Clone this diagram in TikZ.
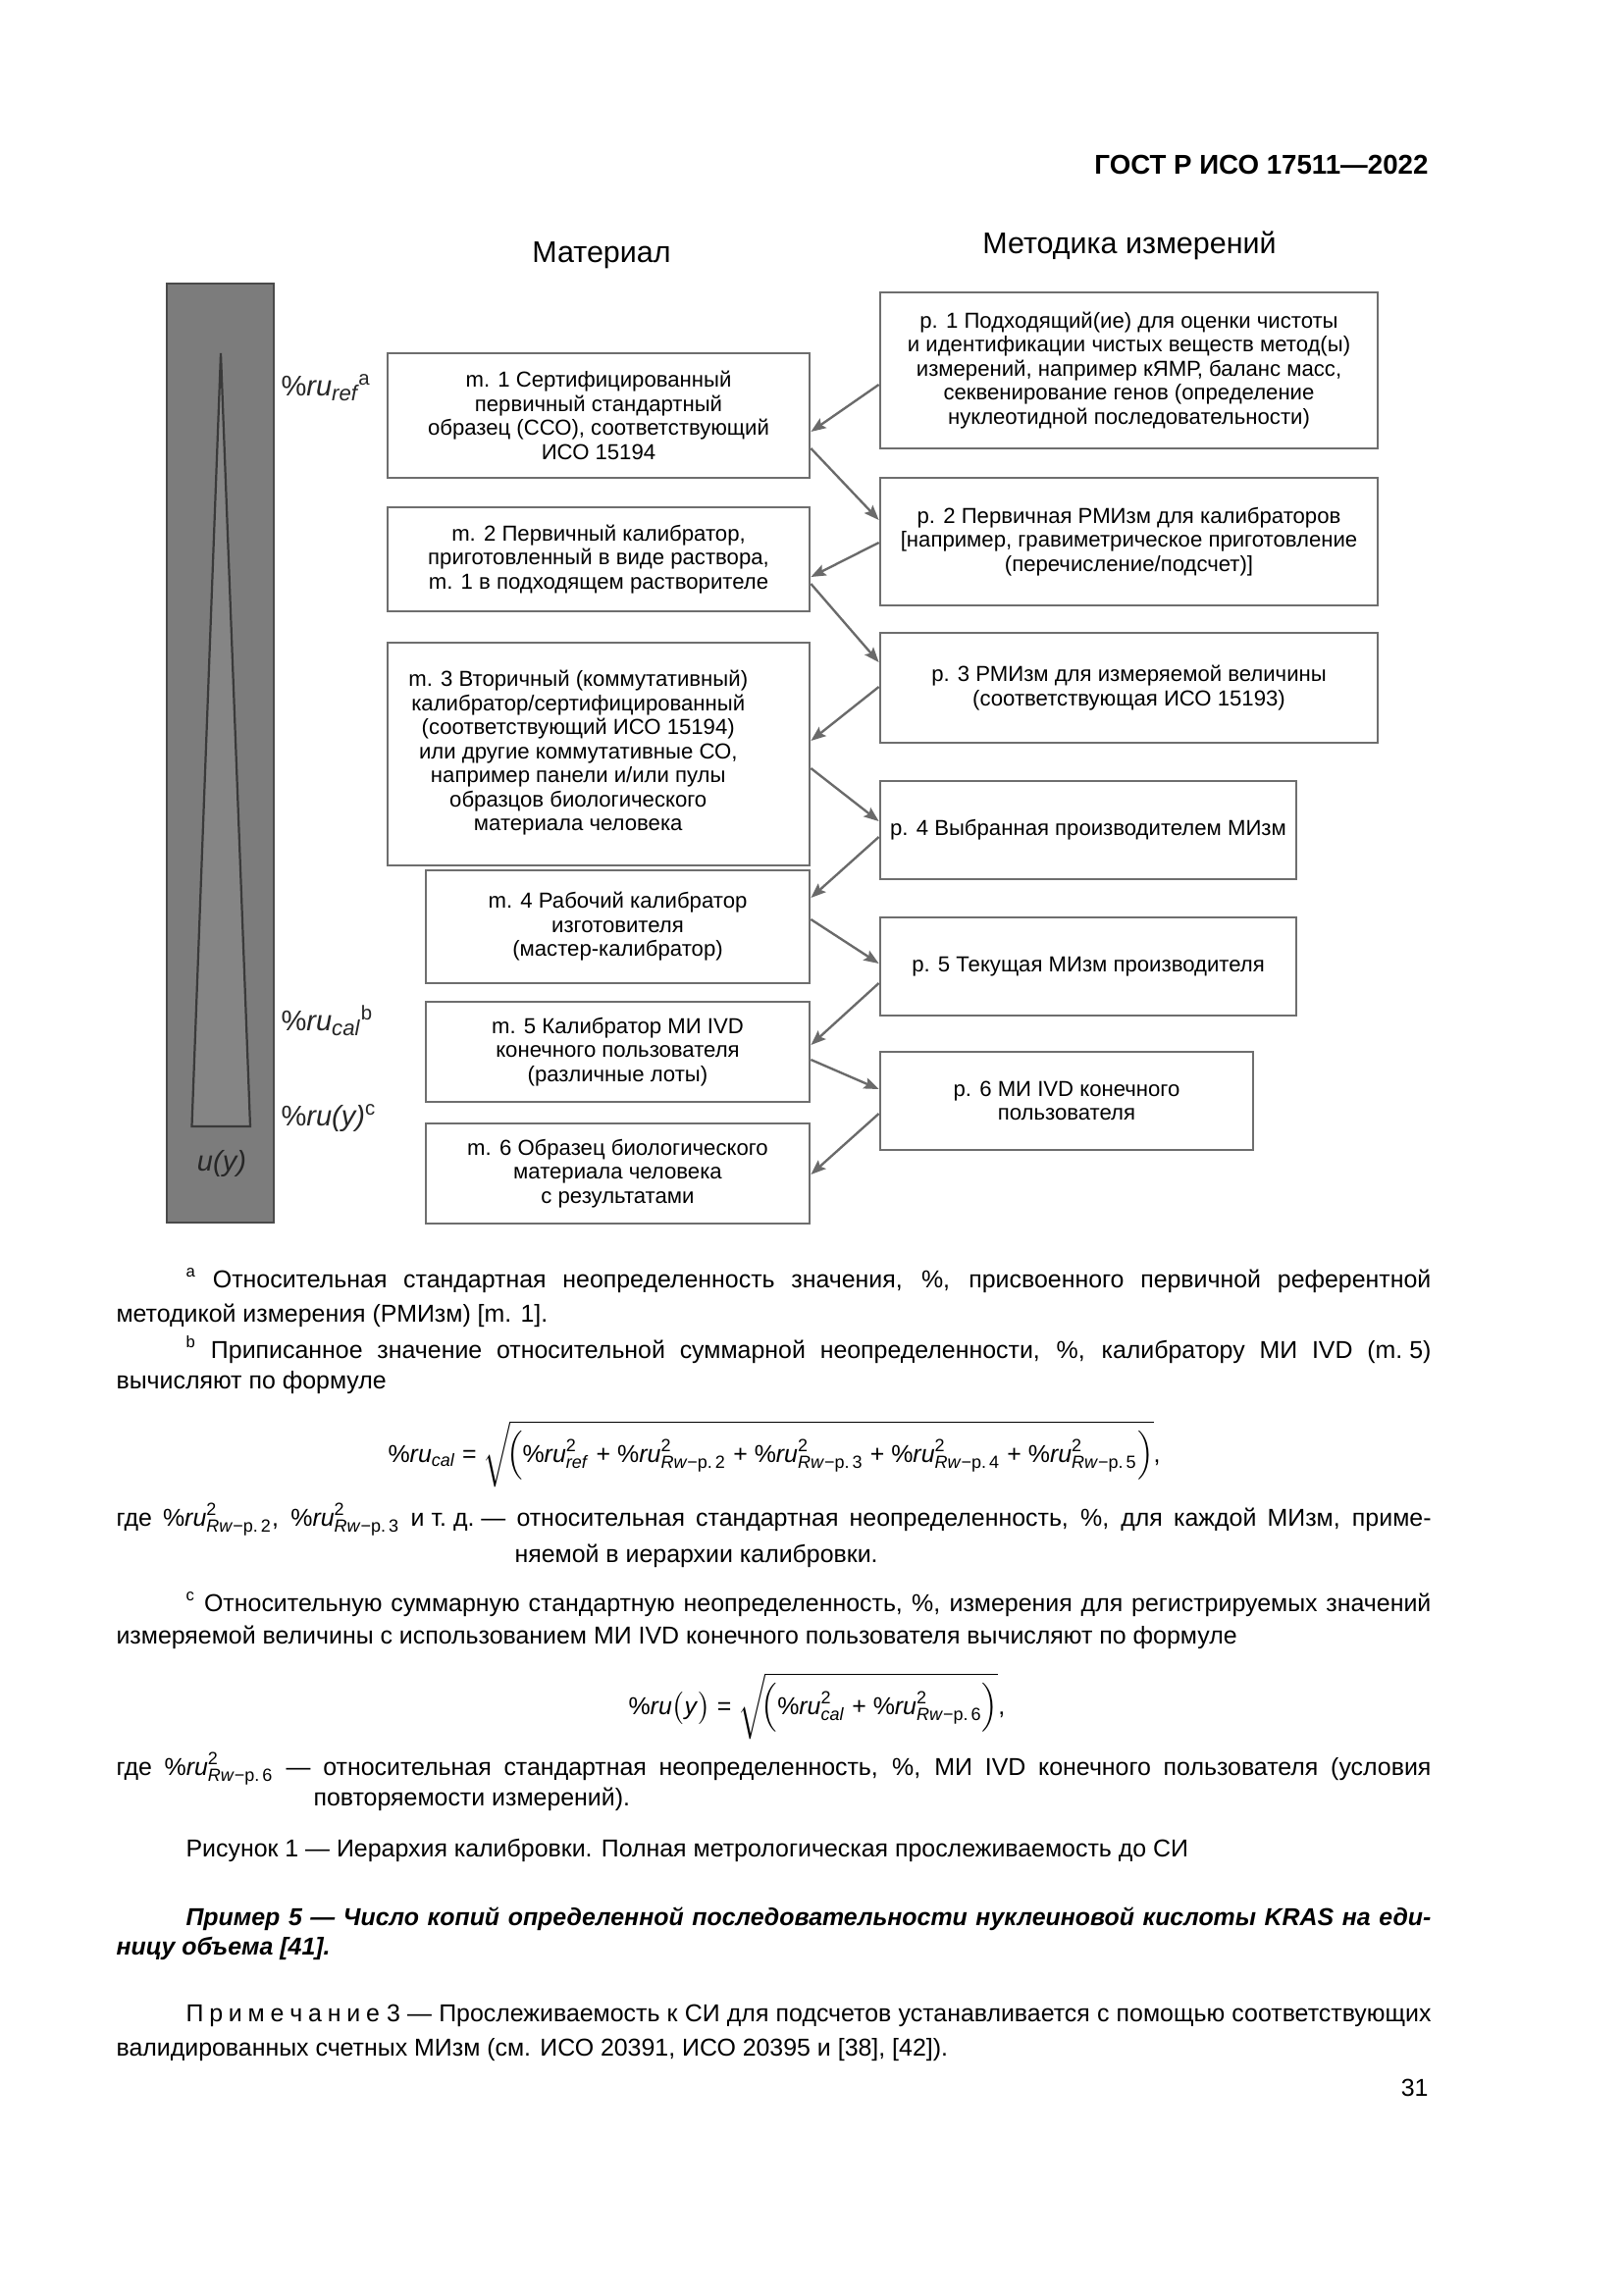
\documentclass[tikz,border=0pt]{standalone}
\usepackage{fontspec}
\setmainfont{Liberation Sans}
\usetikzlibrary{arrows.meta,calc}
\definecolor{boxgray}{HTML}{6E6E6E}
\definecolor{arrgray}{HTML}{6A6A6A}
\definecolor{bargray}{HTML}{7C7C7C}
\definecolor{bardark}{HTML}{4A4A4A}
\definecolor{trigray}{HTML}{858585}
\definecolor{tridark}{HTML}{3A3A3A}
\newcommand{\tsz}{\fontsize{8}{8.85}\selectfont}
\newcommand{\bsz}{\fontsize{9}{11}\selectfont}
\newcommand{\ssz}{\fontsize{6.5}{7}\selectfont}
\newcommand{\lsz}{\fontsize{10.5}{12}\selectfont}
\newcommand{\hsz}{\fontsize{11}{13}\selectfont}
\newcommand{\pru}[1]{\%\textit{ru}$^{\mbox{\ssz 2}}_{\mbox{\ssz #1}}$}
\newcommand{\rwp}[1]{\textit{Rw}−p.\,#1}
\begin{document}
\begin{tikzpicture}[x=0.36125pt,y=-0.36125pt,
  box/.style={draw=boxgray, line width=1pt, fill=white, inner sep=0pt, align=center, font=\tsz},
  arr/.style={draw=arrgray, line width=0.85pt, -{Stealth[length=5.5pt,width=4.2pt,inset=1pt]}},
  txt/.style={anchor=base west, inner sep=0pt, font=\bsz},
  lab/.style={anchor=base west, inner sep=0pt, font=\lsz, text=black!85}]
\useasboundingbox[fill=white] (0,0) rectangle (1654,2339);

% header
\node[anchor=base east, inner sep=0pt, font=\fontsize{10}{12}\selectfont\bfseries] (hdr) at (1456,178) {ГОСТ Р ИСО 17511—2022};
\node[anchor=base, inner sep=0pt, font=\hsz] (tmat) at (613,267) {Материал};
\node[anchor=base, inner sep=0pt, font=\hsz] (tmet) at (1151,258) {Методика измерений};

% uncertainty bar
\draw[draw=bardark, fill=bargray, line width=0.8pt] (170,289) rectangle (279,1246);
\draw[draw=tridark, fill=trigray, line width=0.8pt] (225,360) -- (255,1148) -- (195.5,1148) -- cycle;
\node[anchor=base, inner sep=0pt, font=\lsz, text=black!85] (uy) at (226,1193) {\textit{u(y)}};

\node[lab] (lref) at (286,403) {\%\textit{ru}$_{\mbox{\fontsize{8}{9}\selectfont\itshape ref}}$\textsuperscript{a}};
\node[lab] (lcal) at (286,1050) {\%\textit{ru}$_{\mbox{\fontsize{8}{9}\selectfont\itshape cal}}$\textsuperscript{b}};
\node[lab] (lry) at (286,1147) {\%\textit{ru(y)}\textsuperscript{c}};

% material boxes
\node[box, minimum width=155.34pt, minimum height=45.88pt] (m1) at (610,423.5)
  {m. 1 Сертифицированный\\первичный стандартный\\образец (ССО), соответствующий\\ИСО 15194};
\node[box, minimum width=155.34pt, minimum height=38.29pt] (m2) at (610,570)
  {m. 2 Первичный калибратор,\\приготовленный в виде раствора,\\m. 1 в подходящем растворителе};
\node[draw=boxgray, line width=1pt, fill=white, inner sep=0pt, font=\tsz, minimum width=155.34pt, minimum height=82pt] (m3) at (610,768.5)
  {\begin{tabular}{@{}c@{}}m. 3 Вторичный (коммутативный)\\калибратор/сертифицированный\\(соответствующий ИСО 15194)\\или другие коммутативные СО,\\например панели и/или пулы\\образцов биологического\\материала человека\end{tabular}\hspace*{15pt}};
\node[box, minimum width=141.25pt, minimum height=41.54pt] (m4) at (629.5,944.5)
  {m. 4 Рабочий калибратор\\изготовителя\\(мастер-калибратор)};
\node[box, minimum width=141.25pt, minimum height=36.85pt] (m5) at (629.5,1072)
  {m. 5 Калибратор МИ IVD\\конечного пользователя\\(различные лоты)};
\node[box, minimum width=141.25pt, minimum height=36.85pt] (m6) at (629.5,1196)
  {m. 6 Образец биологического\\материала человека\\с результатами};

% procedure boxes
\node[box, minimum width=183.15pt, minimum height=57.44pt] (p1) at (1150.5,377.5)
  {p. 1 Подходящий(ие) для оценки чистоты\\и идентификации чистых веществ метод(ы)\\измерений, например кЯМР, баланс масс,\\секвенирование генов (определение\\нуклеотидной последовательности)};
\node[box, minimum width=183.15pt, minimum height=46.96pt] (p2) at (1150.5,552)
  {p. 2 Первичная РМИзм для калибраторов\\{[}например, гравиметрическое приготовление\\(перечисление/подсчет)]};
\node[box, minimum width=183.15pt, minimum height=40.46pt] (p3) at (1150.5,701)
  {p. 3 РМИзм для измеряемой величины\\(соответствующая ИСО 15193)};
\node[box, minimum width=153.17pt, minimum height=36.13pt] (p4) at (1109,846)
  {p. 4 Выбранная производителем МИзм};
\node[box, minimum width=153.17pt, minimum height=36.13pt] (p5) at (1109,985)
  {p. 5 Текущая МИзм производителя};
\node[box, minimum width=137.28pt, minimum height=36.13pt] (p6) at (1087,1122)
  {p. 6 МИ IVD конечного\\пользователя};

% connectors
\draw[arr] (p1.west |- 0,392) -- (m1.east |- 0,440);
\draw[arr] (m1.east |- 0,457) -- (p2.west |- 0,530);
\draw[arr] (p2.west |- 0,553) -- (m2.east |- 0,588);
\draw[arr] (m2.east |- 0,595) -- (p3.west |- 0,675);
\draw[arr] (p3.west |- 0,700) -- (m3.east |- 0,755);
\draw[arr] (m3.east |- 0,783) -- (p4.west |- 0,837);
\draw[arr] (p4.west |- 0,853) -- (m4.east |- 0,915);
\draw[arr] (m4.east |- 0,937) -- (p5.west |- 0,982);
\draw[arr] (p5.west |- 0,1002) -- (m5.east |- 0,1065);
\draw[arr] (m5.east |- 0,1080) -- (p6.west |- 0,1110);
\draw[arr] (p6.west |- 0,1135) -- (m6.east |- 0,1197);

% text below
\node[txt] (L1) at (189,1312) {\makebox[458.4pt][s]{\textsuperscript{a} Относительная стандартная неопределенность значения, \%, присвоенного первичной референтной}};
\node[txt] (L2) at (118,1347) {методикой измерения (РМИзм) [m. 1].};
\node[txt] (L3) at (189,1384) {\makebox[458.4pt][s]{\textsuperscript{b} Приписанное значение относительной суммарной неопределенности, \%, калибратору МИ IVD (m.\kern2.5pt 5)}};
\node[txt] (L4) at (118,1415) {вычисляют по формуле};
\node[txt] (F1) at (395,1490) {\%\textit{ru}$_{\mbox{\ssz\itshape cal}}$ = $\sqrt{\!\Bigl(\mbox{\pru{\textit{ref}} + \pru{\rwp{2}} + \pru{\rwp{3}} + \pru{\rwp{4}} + \pru{\rwp{5}}}\Bigr)}$,};
\node[txt] (L5) at (118,1555) {\makebox[484.1pt][s]{где \pru{\rwp{2}}, \pru{\rwp{3}} и\kern2.5pt т.\kern2.5pt д.\kern2.5pt — относительная стандартная неопределенность, \%, для каждой МИзм, приме-}};
\node[txt] (L6) at (524,1592) {няемой в иерархии калибровки.};
\node[txt] (L7) at (189,1642) {\makebox[458.4pt][s]{\textsuperscript{c} Относительную суммарную стандартную неопределенность, \%, измерения для регистрируемых значений}};
\node[txt] (L8) at (118,1675) {измеряемой величины с использованием МИ IVD конечного пользователя вычисляют по формуле};
\node[txt] (F2) at (640,1747) {\%\textit{ru}$\bigl($\textit{y}$\bigr)$ = $\sqrt{\!\Bigl(\mbox{\pru{\textit{cal}} + \pru{\rwp{6}}}\Bigr)}$,};
\node[txt] (L9) at (118,1809) {\makebox[484.1pt][s]{где \pru{\rwp{6}} — относительная стандартная неопределенность, \%, МИ IVD конечного пользователя (условия}};
\node[txt] (L10) at (319,1840) {повторяемости измерений).};
\node[txt] (L11) at (189,1892) {Рисунок 1 — Иерархия калибровки. Полная метрологическая прослеживаемость до СИ};
\node[txt, font=\bsz\bfseries\itshape] (L12) at (189,1962) {\makebox[458.4pt][s]{Пример 5 — Число копий определенной последовательности нуклеиновой кислоты KRAS на еди-}};
\node[txt, font=\bsz\bfseries\itshape] (L13) at (118,1992) {ницу объема [41].};
\node[txt] (L14) at (189,2060) {\makebox[458.4pt][s]{П\kern2.1pt р\kern2.1pt и\kern2.1pt м\kern2.1pt е\kern2.1pt ч\kern2.1pt а\kern2.1pt н\kern2.1pt и\kern2.1pt е 3 — Прослеживаемость к СИ для подсчетов устанавливается с помощью соответствующих}};
\node[txt] (L15) at (118,2095) {валидированных счетных МИзм (см. ИСО 20391, ИСО 20395 и [38], [42]).};
\node[txt, anchor=base east] (pg) at (1456,2136) {31};
\end{tikzpicture}
\end{document}
